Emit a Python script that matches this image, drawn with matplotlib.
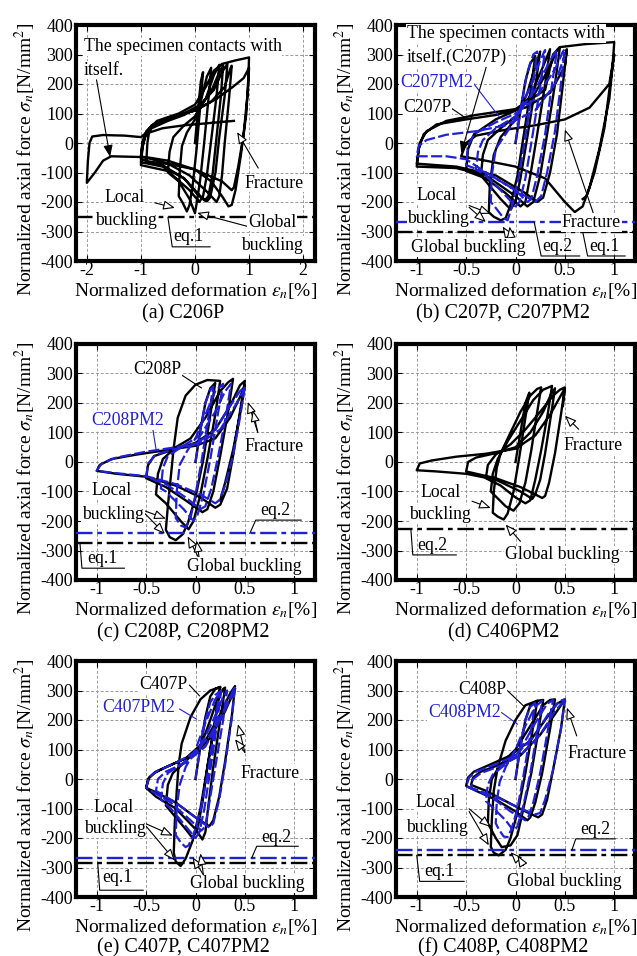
import matplotlib
matplotlib.use("Agg")
import matplotlib.pyplot as plt

plt.rcParams['font.family'] = ['Liberation Serif', 'DejaVu Serif']
plt.rcParams['mathtext.fontset'] = 'stix'
plt.rcParams['axes.unicode_minus'] = False

BLACK = '#000000'
BLUE = '#2020d8'

# ---- hysteresis loops: each specimen is a list of cycles, each cycle a list of (deformation %, stress N/mm2)
C206P = [
    [(0, 0), (0.06, 120), (0.11, 210), (0.15, 240), (0.1, 130), (0.03, -20), (-0.04, -140), (-0.1, -210),
     (-0.15, -232), (-0.22, -205), (-0.3, -180)],
    [(-0.3, -180), (-0.28, -90), (-0.24, -10), (-0.15, 35), (0, 80), (0.12, 150), (0.22, 225), (0.3, 255),
     (0.25, 150), (0.17, 0), (0.1, -120), (0.04, -195), (0.0, -238), (-0.1, -190), (-0.3, -130), (-0.5, -100)],
    [(-0.5, -100), (-0.47, -30), (-0.4, 20), (-0.2, 60), (0, 90), (0.2, 150), (0.35, 230), (0.45, 265),
     (0.4, 160), (0.3, 10), (0.22, -110), (0.15, -180), (0.08, -200), (-0.1, -160), (-0.5, -95), (-1.0, -75)],
    [(-1.0, -75), (-0.97, -15), (-0.92, 20), (-0.8, 50), (-0.5, 75), (-0.2, 95), (0.1, 125), (0.3, 175),
     (0.45, 240), (0.52, 262), (0.48, 160), (0.4, 20), (0.33, -100), (0.25, -180), (0.18, -195), (0.05, -175),
     (-0.2, -120), (-0.6, -80), (-1.0, -65)],
    [(-1.0, -65), (-0.97, -10), (-0.92, 25), (-0.8, 55), (-0.5, 80), (-0.2, 100), (0.1, 130), (0.35, 180),
     (0.5, 240), (0.6, 268), (0.55, 160), (0.45, 20), (0.38, -100), (0.28, -185), (0.22, -198), (0.1, -180),
     (-0.2, -120), (-0.6, -75), (-1.0, -55)],
    [(-1.0, -55), (-0.97, 0), (-0.9, 35), (-0.75, 65), (-0.4, 90), (0, 110), (0.3, 140), (0.55, 190),
     (0.65, 250), (0.68, 262), (0.63, 150), (0.55, 0), (0.5, -110), (0.45, -180), (0.4, -200), (0.25, -170),
     (-0.1, -110), (-0.5, -70), (-1.0, -45)],
    [(-1.0, -45), (-0.97, 5), (-0.9, 40), (-0.7, 75), (-0.3, 100), (0, 130), (0.2, 190), (0.35, 245),
     (0.5, 268), (0.75, 280), (1.0, 290), (0.99, 230), (0.95, 100), (0.85, -40), (0.75, -160), (0.68, -210),
     (0.62, -215), (0.5, -180), (0.3, -130), (0, -90), (-0.5, -60), (-0.9, -48), (-1.55, -45), (-1.7, -60),
     (-1.85, -100), (-2.0, -135)],
    [(-2.0, -135), (-1.98, -60), (-1.95, 0), (-1.9, 22), (-1.7, 27), (-1.3, 25), (-1.0, 20), (-0.9, 35),
     (-0.8, 60), (-0.5, 85), (0, 110), (0.4, 150), (0.7, 190), (0.9, 220), (1.0, 255), (0.98, 180),
     (0.9, 30), (0.8, -80), (0.72, -150), (0.68, -160), (0.5, -130), (0, -90), (-0.5, -70), (-0.9, -65)],
    [(-0.9, -65), (-0.88, 0), (-0.85, 35), (-0.6, 50), (-0.2, 60), (0.3, 68), (0.72, 75)],
]

C207P = [
    [(0, 0), (0.05, 110), (0.1, 210), (0.15, 270), (0.2, 295), (0.15, 170), (0.08, 20), (0.02, -110),
     (-0.05, -210), (-0.1, -255), (-0.15, -262), (-0.22, -250), (-0.27, -235)],
    [(-0.27, -235), (-0.26, -140), (-0.22, -40), (-0.15, 20), (0, 80), (0.12, 170), (0.2, 260), (0.25, 310),
     (0.2, 190), (0.12, 20), (0.05, -120), (0, -200), (-0.05, -225), (-0.15, -190), (-0.3, -130), (-0.35, -110)],
    [(-0.35, -110), (-0.33, -40), (-0.28, 10), (-0.15, 50), (0, 90), (0.15, 160), (0.28, 260), (0.35, 318),
     (0.3, 200), (0.22, 30), (0.15, -110), (0.1, -200), (0.05, -215), (-0.1, -170), (-0.3, -120), (-0.5, -95)],
    [(-0.5, -95), (-0.48, -20), (-0.42, 30), (-0.2, 80), (0, 110), (0.2, 170), (0.35, 260), (0.42, 315),
     (0.45, 325), (0.4, 200), (0.32, 30), (0.25, -110), (0.18, -200), (0.12, -215), (0, -180), (-0.3, -110),
     (-0.6, -85), (-1.0, -80)],
    [(-1.0, -80), (-0.98, -20), (-0.93, 30), (-0.8, 63), (-0.5, 80), (-0.2, 95), (0.1, 120), (0.35, 170),
     (0.5, 260), (0.52, 318), (0.48, 200), (0.42, 30), (0.35, -100), (0.28, -185), (0.22, -200), (0.1, -170),
     (-0.2, -110), (-0.6, -80), (-1.0, -70)],
    [(-1.0, -70), (-0.97, 0), (-0.9, 40), (-0.7, 75), (-0.4, 95), (0, 115), (0.3, 180), (0.38, 300),
     (0.45, 325), (0.7, 335), (1.0, 342), (0.98, 250), (0.95, 150), (0.85, -20), (0.75, -150), (0.68, -215),
     (0.6, -234), (0.5, -200), (0.3, -120), (0, -80), (-0.3, -60), (-0.55, -45)],
    [(-0.55, -45), (-0.5, 0), (-0.4, 25), (-0.1, 45), (0.2, 60), (0.5, 80), (0.75, 120), (0.95, 200),
     (1.0, 300), (0.97, 230), (0.9, 50), (0.8, -100), (0.72, -180), (0.68, -190)],
]

C207PM2 = [
    [(0, 0), (0.06, 130), (0.12, 240), (0.18, 300), (0.22, 310), (0.17, 180), (0.1, 20), (0.03, -120),
     (-0.04, -220), (-0.08, -262), (-0.12, -255), (-0.2, -220), (-0.25, -200)],
    [(-0.25, -200), (-0.24, -110), (-0.2, -20), (-0.1, 30), (0, 80), (0.15, 190), (0.25, 280), (0.3, 315),
     (0.25, 190), (0.17, 20), (0.1, -120), (0.04, -200), (0, -215), (-0.15, -160), (-0.3, -110), (-0.4, -90)],
    [(-0.4, -90), (-0.38, -30), (-0.33, 10), (-0.2, 50), (0, 90), (0.2, 180), (0.35, 280), (0.42, 315),
     (0.37, 200), (0.3, 30), (0.22, -110), (0.16, -190), (0.12, -200), (0, -160), (-0.3, -100), (-0.5, -75)],
    [(-0.5, -75), (-0.48, -10), (-0.42, 30), (-0.2, 70), (0, 100), (0.2, 150), (0.4, 250), (0.48, 310),
     (0.5, 318), (0.46, 200), (0.4, 40), (0.32, -100), (0.26, -180), (0.2, -200), (0.05, -170), (-0.3, -100),
     (-0.5, -55), (-0.7, -45), (-1.0, -45)],
    [(-1.0, -45), (-0.98, -10), (-0.9, 10), (-0.7, 28), (-0.4, 40), (-0.1, 60), (0.2, 110), (0.4, 200),
     (0.5, 300)],
]

C208P = [
    [(0, 0), (0.05, 110), (0.1, 200), (0.15, 250), (0.2, 268), (0.15, 160), (0.08, 10), (0.0, -120),
     (-0.08, -210), (-0.13, -245), (-0.2, -265), (-0.26, -255), (-0.3, -230)],
    [(-0.3, -230), (-0.28, -150), (-0.25, -50), (-0.22, 50), (-0.18, 150), (-0.1, 225), (0, 262), (0.12, 278),
     (0.25, 275), (0.2, 160), (0.12, 10), (0.05, -110), (-0.02, -200), (-0.07, -228), (-0.15, -200),
     (-0.3, -140), (-0.4, -110)],
    [(-0.4, -110), (-0.38, -40), (-0.33, 10), (-0.2, 50), (-0.05, 80), (0.1, 150), (0.25, 240), (0.33, 270),
     (0.38, 282), (0.33, 170), (0.25, 20), (0.18, -100), (0.12, -160), (0.07, -170), (-0.1, -130),
     (-0.3, -85), (-0.5, -55)],
    [(-0.5, -55), (-0.48, -10), (-0.42, 20), (-0.2, 45), (0, 65), (0.2, 110), (0.35, 190), (0.45, 260),
     (0.5, 275), (0.45, 170), (0.38, 20), (0.32, -90), (0.25, -145), (0.2, -155), (0.05, -120), (-0.2, -80),
     (-0.5, -50), (-0.8, -40), (-1.0, -30)],
    [(-1.0, -30), (-0.97, -10), (-0.85, 10), (-0.6, 25), (-0.3, 40), (0, 55), (0.2, 80), (0.35, 150),
     (0.45, 220), (0.5, 260), (0.45, 160), (0.38, 40), (0.3, -70), (0.25, -130)],
]

C208PM2 = [
    [(0, 0), (0.05, 110), (0.1, 200), (0.15, 245), (0.18, 255), (0.13, 150), (0.06, 0), (0, -110),
     (-0.05, -190), (-0.1, -222), (-0.15, -215), (-0.2, -190)],
    [(-0.2, -190), (-0.19, -100), (-0.16, -10), (-0.08, 40), (0, 80), (0.1, 160), (0.2, 240), (0.28, 265),
     (0.22, 150), (0.15, 10), (0.08, -110), (0.02, -180), (-0.02, -200), (-0.12, -160), (-0.3, -100),
     (-0.35, -90)],
    [(-0.35, -90), (-0.33, -20), (-0.28, 20), (-0.1, 60), (0.05, 90), (0.2, 170), (0.3, 240), (0.36, 265),
     (0.31, 160), (0.23, 20), (0.16, -90), (0.1, -150), (0.05, -160), (-0.1, -120), (-0.3, -75), (-0.5, -50)],
    [(-0.5, -50), (-0.48, -5), (-0.4, 25), (-0.2, 45), (0, 60), (0.2, 110), (0.35, 190), (0.45, 240),
     (0.5, 255), (0.45, 150), (0.38, 20), (0.3, -80), (0.24, -130), (0.2, -140), (0.05, -110), (-0.2, -75),
     (-0.5, -48), (-0.8, -38), (-1.0, -30)],
    [(-1.0, -30), (-0.95, -5), (-0.8, 15), (-0.5, 35), (-0.2, 50), (0.05, 65), (0.25, 110), (0.4, 190),
     (0.5, 250)],
]

C406PM2 = [
    [(0.0, 0), (0.06, 120), (0.1, 200), (0.14, 235), (0.1, 150), (0.04, 20), (-0.02, -100), (-0.08, -175),
     (-0.12, -195), (-0.18, -185), (-0.23, -172)],
    [(-0.23, -172), (-0.22, -100), (-0.19, -20), (-0.15, 30), (-0.05, 100), (0.05, 170), (0.15, 225),
     (0.22, 248), (0.26, 253), (0.22, 170), (0.16, 40), (0.1, -70), (0.04, -140), (-0.02, -165),
     (-0.1, -150), (-0.22, -110), (-0.25, -100)],
    [(-0.25, -100), (-0.23, -40), (-0.18, 10), (-0.08, 70), (0.05, 140), (0.18, 210), (0.28, 245),
     (0.37, 258), (0.33, 170), (0.26, 40), (0.2, -60), (0.15, -130), (0.1, -140), (0.0, -120), (-0.15, -80),
     (-0.3, -55)],
    [(-0.3, -55), (-0.28, -10), (-0.2, 25), (-0.05, 60), (0.1, 110), (0.25, 170), (0.38, 225), (0.45, 245),
     (0.5, 253), (0.46, 160), (0.4, 30), (0.34, -70), (0.3, -115), (0.27, -122), (0.2, -110), (0.05, -85),
     (-0.2, -55), (-0.5, -32)],
    [(-0.5, -32), (-0.48, 0), (-0.4, 15), (-0.2, 30), (0, 50), (0.15, 100), (0.28, 170), (0.36, 230),
     (0.4, 250), (0.36, 160), (0.3, 30), (0.25, -60), (0.2, -110), (0.17, -125), (0.05, -100), (-0.2, -60),
     (-0.5, -40), (-0.8, -32), (-1.0, -28)],
    [(-1.0, -28), (-0.97, -5), (-0.85, 5), (-0.6, 18), (-0.3, 28), (0, 45), (0.2, 90), (0.35, 160),
     (0.45, 220), (0.5, 250), (0.48, 190)],
]

C407P = [
    [(0, 0), (0.05, 110), (0.1, 210), (0.15, 280), (0.2, 305), (0.25, 312), (0.2, 200), (0.12, 40),
     (0.05, -100), (-0.03, -210), (-0.1, -270), (-0.15, -295), (-0.2, -280), (-0.22, -250)],
    [(-0.22, -250), (-0.21, -150), (-0.19, -40), (-0.17, 50), (-0.14, 120), (-0.05, 210), (0.05, 270),
     (0.15, 300), (0.25, 312), (0.2, 200), (0.12, 40), (0.07, -80), (0.02, -170), (-0.03, -200), (-0.1, -170),
     (-0.25, -110), (-0.3, -90)],
    [(-0.3, -90), (-0.28, -20), (-0.23, 20), (-0.1, 60), (0.05, 110), (0.15, 200), (0.22, 270), (0.28, 305),
     (0.3, 310), (0.25, 200), (0.18, 40), (0.13, -90), (0.1, -180), (0.07, -205), (0, -170), (-0.2, -100),
     (-0.4, -60), (-0.5, -30)],
    [(-0.5, -30), (-0.48, 0), (-0.42, 20), (-0.3, 40), (-0.1, 70), (0.1, 130), (0.25, 220), (0.35, 290),
     (0.4, 315), (0.37, 220), (0.3, 60), (0.24, -60), (0.18, -140), (0.14, -160), (0.0, -130), (-0.2, -80),
     (-0.4, -45), (-0.5, -30)],
    [(-0.5, -30), (-0.47, 5), (-0.4, 25), (-0.2, 55), (0, 85), (0.15, 140), (0.3, 230), (0.38, 290),
     (0.4, 305)],
]

C407PM2 = [
    [(0, 0), (0.05, 110), (0.1, 200), (0.15, 260), (0.2, 285), (0.24, 295), (0.2, 190), (0.13, 30),
     (0.05, -110), (-0.02, -190), (-0.07, -225), (-0.1, -231), (-0.15, -215), (-0.2, -190)],
    [(-0.2, -190), (-0.19, -100), (-0.16, -20), (-0.1, 40), (0, 100), (0.1, 190), (0.2, 270), (0.26, 300),
     (0.22, 190), (0.15, 30), (0.09, -100), (0.04, -180), (0, -200), (-0.1, -160), (-0.25, -100), (-0.35, -70)],
    [(-0.35, -70), (-0.33, -15), (-0.28, 20), (-0.1, 60), (0.05, 110), (0.18, 200), (0.27, 270), (0.32, 300),
     (0.28, 200), (0.2, 40), (0.14, -80), (0.1, -160), (0.06, -175), (-0.05, -140), (-0.25, -80), (-0.5, -30)],
    [(-0.5, -30), (-0.47, 5), (-0.4, 25), (-0.2, 55), (0, 90), (0.15, 150), (0.3, 240), (0.38, 300),
     (0.4, 315), (0.37, 210), (0.3, 50), (0.24, -70), (0.18, -150), (0.14, -165), (0, -130), (-0.2, -80),
     (-0.4, -40)],
    [(-0.4, -40), (-0.38, 0), (-0.3, 25), (-0.1, 55), (0.1, 110), (0.25, 200), (0.35, 270), (0.4, 300)],
]

C408P = [
    [(0, 0), (0.05, 110), (0.1, 200), (0.15, 250), (0.22, 265), (0.17, 160), (0.1, 20), (0.03, -100),
     (-0.05, -200), (-0.1, -240), (-0.17, -259), (-0.22, -250), (-0.25, -230)],
    [(-0.25, -230), (-0.24, -140), (-0.22, -40), (-0.18, 40), (-0.1, 130), (0, 200), (0.1, 250), (0.22, 265),
     (0.28, 268), (0.23, 160), (0.16, 20), (0.08, -100), (0.02, -190), (-0.05, -225), (-0.14, -231),
     (-0.2, -200), (-0.28, -150)],
    [(-0.28, -150), (-0.27, -70), (-0.24, 0), (-0.15, 50), (0, 100), (0.15, 180), (0.28, 250), (0.35, 268),
     (0.4, 270), (0.35, 170), (0.27, 20), (0.2, -80), (0.15, -130), (0.12, -140), (0, -110), (-0.2, -70),
     (-0.4, -40), (-0.5, -23)],
    [(-0.5, -23), (-0.48, 5), (-0.42, 25), (-0.25, 50), (-0.05, 80), (0.15, 130), (0.3, 200), (0.42, 255),
     (0.5, 270), (0.46, 170), (0.38, 30), (0.32, -70), (0.27, -120), (0.23, -130), (0.1, -110), (-0.1, -75),
     (-0.3, -40), (-0.45, -20)],
    [(-0.45, -20), (-0.43, 5), (-0.35, 25), (-0.15, 50), (0.05, 80), (0.25, 150), (0.4, 220), (0.48, 260),
     (0.5, 265)],
]

C408PM2 = [
    [(0, 0), (0.05, 110), (0.1, 200), (0.15, 245), (0.2, 258), (0.15, 150), (0.08, 10), (0.02, -100),
     (-0.04, -170), (-0.08, -197), (-0.12, -195), (-0.17, -170), (-0.2, -150)],
    [(-0.2, -150), (-0.19, -80), (-0.16, -10), (-0.1, 40), (0, 100), (0.1, 180), (0.2, 245), (0.27, 265),
     (0.22, 160), (0.15, 20), (0.08, -90), (0.02, -160), (-0.02, -175), (-0.1, -140), (-0.25, -90), (-0.3, -75)],
    [(-0.3, -75), (-0.28, -20), (-0.23, 15), (-0.1, 50), (0.05, 100), (0.2, 190), (0.32, 255), (0.38, 268),
     (0.33, 170), (0.25, 20), (0.18, -80), (0.13, -130), (0.1, -140), (-0.05, -110), (-0.25, -60), (-0.5, -25)],
    [(-0.5, -25), (-0.47, 5), (-0.4, 25), (-0.2, 50), (0, 80), (0.2, 150), (0.35, 230), (0.45, 265),
     (0.5, 270), (0.46, 170), (0.38, 30), (0.3, -70), (0.25, -115), (0.2, -120), (0.05, -100), (-0.2, -60),
     (-0.45, -30)],
    [(-0.45, -30), (-0.43, 0), (-0.35, 20), (-0.15, 45), (0.05, 80), (0.25, 150), (0.4, 230), (0.5, 268)],
]

# design strength lines (N/mm2)
EQ1 = {'a': -252, 'b': -300, 'c': -274, 'e': -285, 'f': -259}
EQ2 = {'b': -269, 'c': -242, 'd': -226, 'e': -267, 'f': -242}

Y_TICKS = [-400, -300, -200, -100, 0, 100, 200, 300, 400]
X_TICKS_WIDE = [-2, -1, 0, 1, 2]
X_TICKS = [-1, -0.5, 0, 0.5, 1]
X_TICKLABELS = ['-1', '-0.5', '0', '0.5', '1']

CAPTIONS = {'a': '(a) C206P', 'b': '(b) C207P, C207PM2', 'c': '(c) C208P, C208PM2',
            'd': '(d) C406PM2', 'e': '(e) C407P, C407PM2', 'f': '(f) C408P, C408PM2'}

W, H = 637, 956
fig = plt.figure(figsize=(W / 100, H / 100), dpi=100)

COL_LEFT = [76, 396]
ROW_TOP = [25, 344, 661]
CAPTION_Y = [314, 633, 948]
AX_W, AX_H = 239, 236

TXT = 12.8
TBOX = dict(facecolor='white', edgecolor='none', pad=0.5)


def make_axes(col, row, wide=False):
    l = COL_LEFT[col] / W
    b = 1 - (ROW_TOP[row] + AX_H) / H
    ax = fig.add_axes([l, b, AX_W / W, AX_H / H])
    ax.set_ylim(-400, 400)
    ax.set_yticks(Y_TICKS)
    ax.set_yticklabels([str(v) for v in Y_TICKS])
    if wide:
        ax.set_xlim(-2.2, 2.22)
        ax.set_xticks(X_TICKS_WIDE)
        ax.set_xticklabels([str(v) for v in X_TICKS_WIDE])
    else:
        ax.set_xlim(-1.21, 1.21)
        ax.set_xticks(X_TICKS)
        ax.set_xticklabels(X_TICKLABELS)
    ax.grid(True, color='#9a9a9a', lw=0.7, ls=(0, (3, 2)))
    ax.set_axisbelow(True)
    for s in ax.spines.values():
        s.set_linewidth(3.0)
    ax.tick_params(direction='in', length=4, width=0.8, top=True, right=True,
                   labelsize=13, pad=2)
    ax.tick_params(axis='x', pad=1)
    ax.text(-0.16, 0.43, r'Normalized axial force $\sigma_n$[N/mm$^2$]', transform=ax.transAxes,
            rotation=90, ha='right', va='center', fontsize=14)
    ax.text(0.5, -0.148, r'Normalized deformation $\varepsilon_n$[%]', transform=ax.transAxes,
            ha='center', va='baseline', fontsize=14)
    return ax


def caption(key, col, row):
    cx = (COL_LEFT[col] + AX_W / 2 - 12) / W
    cy = 1 - CAPTION_Y[row] / H
    fig.text(cx, cy, CAPTIONS[key], ha='center', va='center', fontsize=14.5)


def loops(ax, cycles, color, dashed=False):
    xs, ys = [], []
    for cyc in cycles:
        for x, y in cyc:
            xs.append(x)
            ys.append(y)
    if dashed:
        ax.plot(xs, ys, color=color, lw=1.6, ls=(0, (5, 1.5)), zorder=4, solid_joinstyle='round')
    else:
        ax.plot(xs, ys, color=color, lw=1.7, zorder=3, solid_joinstyle='round')


def eqline(ax, y, color):
    ax.axhline(y, color=color, lw=1.7, ls=(0, (7, 2, 2, 2)), zorder=5)


def leader(ax, pts, color=BLACK):
    ax.plot([p[0] for p in pts], [p[1] for p in pts], color=color, lw=0.8, zorder=6)


def label(ax, x, y, s, color=BLACK, ha='center'):
    ax.text(x, y, s, ha=ha, va='center', fontsize=TXT, color=color, bbox=TBOX, zorder=8)


def eqtext(ax, x, y, s):
    ax.text(x, y, s, ha='left', va='center', fontsize=TXT, zorder=8)


def arrow(ax, tail, head, filled=False):
    ax.annotate('', xy=head, xytext=tail, zorder=7,
                arrowprops=dict(arrowstyle='-|>,head_length=0.7,head_width=0.28',
                                fc='black' if filled else 'white', ec='black', lw=0.8,
                                shrinkA=0, shrinkB=0))


# (a) C206P
ax = make_axes(0, 0, wide=True)
loops(ax, C206P, BLACK)
eqline(ax, EQ1['a'], BLACK)
label(ax, -2.06, 326, 'The specimen contacts with', ha='left')
label(ax, -2.06, 247, 'itself.', ha='left')
arrow(ax, (-1.82, 214), (-1.57, -47), filled=True)
label(ax, 1.46, -136, 'Fracture')
arrow(ax, (1.17, -85), (0.78, 37))
label(ax, -1.31, -186, 'Local')
label(ax, -1.28, -262, 'buckling')
arrow(ax, (-0.74, -203), (-0.37, -220))
label(ax, 1.43, -268, 'Global')
label(ax, 1.43, -346, 'buckling')
arrow(ax, (1.12, -290), (0.04, -237))
leader(ax, [(-0.5, EQ1['a']), (-0.42, -352), (0.28, -352)])
eqtext(ax, -0.4, -318, 'eq.1')
caption('a', 0, 0)

# (b) C207P, C207PM2
ax = make_axes(1, 0)
loops(ax, C207P, BLACK)
loops(ax, C207PM2, BLUE, dashed=True)
eqline(ax, EQ1['b'], BLACK)
eqline(ax, EQ2['b'], BLUE)
label(ax, -1.1, 371, 'The specimen contacts with', ha='left')
label(ax, -1.1, 291, 'itself.(C207P)', ha='left')
arrow(ax, (-0.29, 265), (-0.55, -34), filled=True)
label(ax, -0.8, 206, 'C207PM2', color=BLUE)
leader(ax, [(-0.42, 200), (-0.17, 91)], BLUE)
label(ax, -0.89, 120, 'C207P')
leader(ax, [(-0.65, 118), (-0.51, 86)])
label(ax, 0.77, -269, 'Fracture')
arrow(ax, (0.79, -240), (0.5, 46))
label(ax, -0.8, -177, 'Local')
label(ax, -0.78, -257, 'buckling')
arrow(ax, (-0.47, -212), (-0.25, -240))
arrow(ax, (-0.47, -218), (-0.3, -268))
label(ax, -0.48, -354, 'Global buckling')
arrow(ax, (-0.04, -330), (-0.13, -283))
arrow(ax, (-0.04, -330), (-0.06, -283))
leader(ax, [(0.19, EQ2['b']), (0.26, -383), (0.65, -383)])
eqtext(ax, 0.27, -350, 'eq.2')
leader(ax, [(0.68, EQ1['b']), (0.73, -383), (1.11, -383)])
eqtext(ax, 0.75, -350, 'eq.1')
caption('b', 1, 0)

# (c) C208P, C208PM2
ax = make_axes(0, 1)
loops(ax, C208P, BLACK)
loops(ax, C208PM2, BLUE, dashed=True)
eqline(ax, EQ1['c'], BLACK)
eqline(ax, EQ2['c'], BLUE)
label(ax, -0.39, 314, 'C208P')
leader(ax, [(-0.15, 297), (0.06, 251)])
label(ax, -0.69, 141, 'C208PM2', color=BLUE)
leader(ax, [(-0.43, 107), (-0.4, 44)], BLUE)
label(ax, 0.8, 52, 'Fracture')
arrow(ax, (0.63, 101), (0.53, 204))
arrow(ax, (0.63, 101), (0.58, 176))
label(ax, -0.845, -97, 'Local')
label(ax, -0.835, -177, 'buckling')
arrow(ax, (-0.52, -165), (-0.3, -192))
arrow(ax, (-0.52, -172), (-0.31, -244))
label(ax, 0.495, -354, 'Global buckling')
arrow(ax, (0.04, -330), (-0.08, -252))
arrow(ax, (0.04, -330), (0.01, -266))
leader(ax, [(0.55, EQ2['c']), (0.61, -197), (1.07, -197)])
eqtext(ax, 0.66, -166, 'eq.2')
leader(ax, [(-1.17, EQ1['c']), (-1.15, -360), (-0.72, -360)])
eqtext(ax, -1.1, -328, 'eq.1')
caption('c', 0, 1)

# (d) C406PM2
ax = make_axes(1, 1)
loops(ax, C406PM2, BLACK)
eqline(ax, EQ2['d'], BLACK)
label(ax, 0.79, 57, 'Fracture')
arrow(ax, (0.64, 111), (0.5, 157))
label(ax, -0.76, -105, 'Local')
label(ax, -0.76, -178, 'buckling')
arrow(ax, (-0.44, -133), (-0.25, -156))
label(ax, 0.47, -315, 'Global buckling')
arrow(ax, (0.05, -269), (-0.1, -212))
leader(ax, [(-1.06, EQ2['d']), (-1.04, -315), (-0.6, -315)])
eqtext(ax, -0.99, -284, 'eq.2')
caption('d', 1, 1)

# (e) C407P, C407PM2
ax = make_axes(0, 2)
loops(ax, C407P, BLACK)
loops(ax, C407PM2, BLUE, dashed=True)
eqline(ax, EQ1['e'], BLACK)
eqline(ax, EQ2['e'], BLUE)
label(ax, -0.33, 321, 'C407P')
leader(ax, [(-0.06, 318), (0.04, 282)])
label(ax, -0.58, 242, 'C407PM2', color=BLUE)
leader(ax, [(-0.16, 237), (0.01, 203)], BLUE)
label(ax, 0.75, 20, 'Fracture')
arrow(ax, (0.5, 90), (0.43, 186))
arrow(ax, (0.5, 90), (0.4, 135))
label(ax, -0.83, -96, 'Local')
label(ax, -0.82, -169, 'buckling')
arrow(ax, (-0.5, -152), (-0.23, -192))
arrow(ax, (-0.5, -160), (-0.21, -276))
label(ax, 0.52, -355, 'Global buckling')
arrow(ax, (0.08, -325), (-0.03, -265))
arrow(ax, (0.08, -325), (0.05, -252))
leader(ax, [(0.57, EQ2['e']), (0.62, -228), (1.04, -228)])
eqtext(ax, 0.67, -197, 'eq.2')
leader(ax, [(-0.99, EQ1['e']), (-0.97, -377), (-0.53, -377)])
eqtext(ax, -0.94, -335, 'eq.1')
caption('e', 0, 2)

# (f) C408P, C408PM2
ax = make_axes(1, 2)
loops(ax, C408P, BLACK)
loops(ax, C408PM2, BLUE, dashed=True)
eqline(ax, EQ1['f'], BLACK)
eqline(ax, EQ2['f'], BLUE)
label(ax, -0.34, 304, 'C408P')
leader(ax, [(-0.08, 299), (0.08, 248)])
label(ax, -0.52, 225, 'C408PM2', color=BLUE)
leader(ax, [(-0.14, 225), (0.02, 186)], BLUE)
label(ax, 0.83, 88, 'Fracture')
arrow(ax, (0.62, 146), (0.52, 242))
label(ax, -0.81, -79, 'Local')
label(ax, -0.79, -163, 'buckling')
arrow(ax, (-0.47, -101), (-0.25, -163))
arrow(ax, (-0.47, -110), (-0.27, -225))
label(ax, 0.49, -349, 'Global buckling')
arrow(ax, (0.08, -293), (-0.05, -248))
arrow(ax, (0.08, -293), (0.02, -259))
leader(ax, [(0.57, EQ2['f']), (0.61, -203), (1.01, -203)])
eqtext(ax, 0.66, -172, 'eq.2')
leader(ax, [(-1.0, EQ1['f']), (-0.97, -347), (-0.52, -347)])
eqtext(ax, -0.92, -315, 'eq.1')
caption('f', 1, 2)

fig.savefig('out.png', dpi=100)
